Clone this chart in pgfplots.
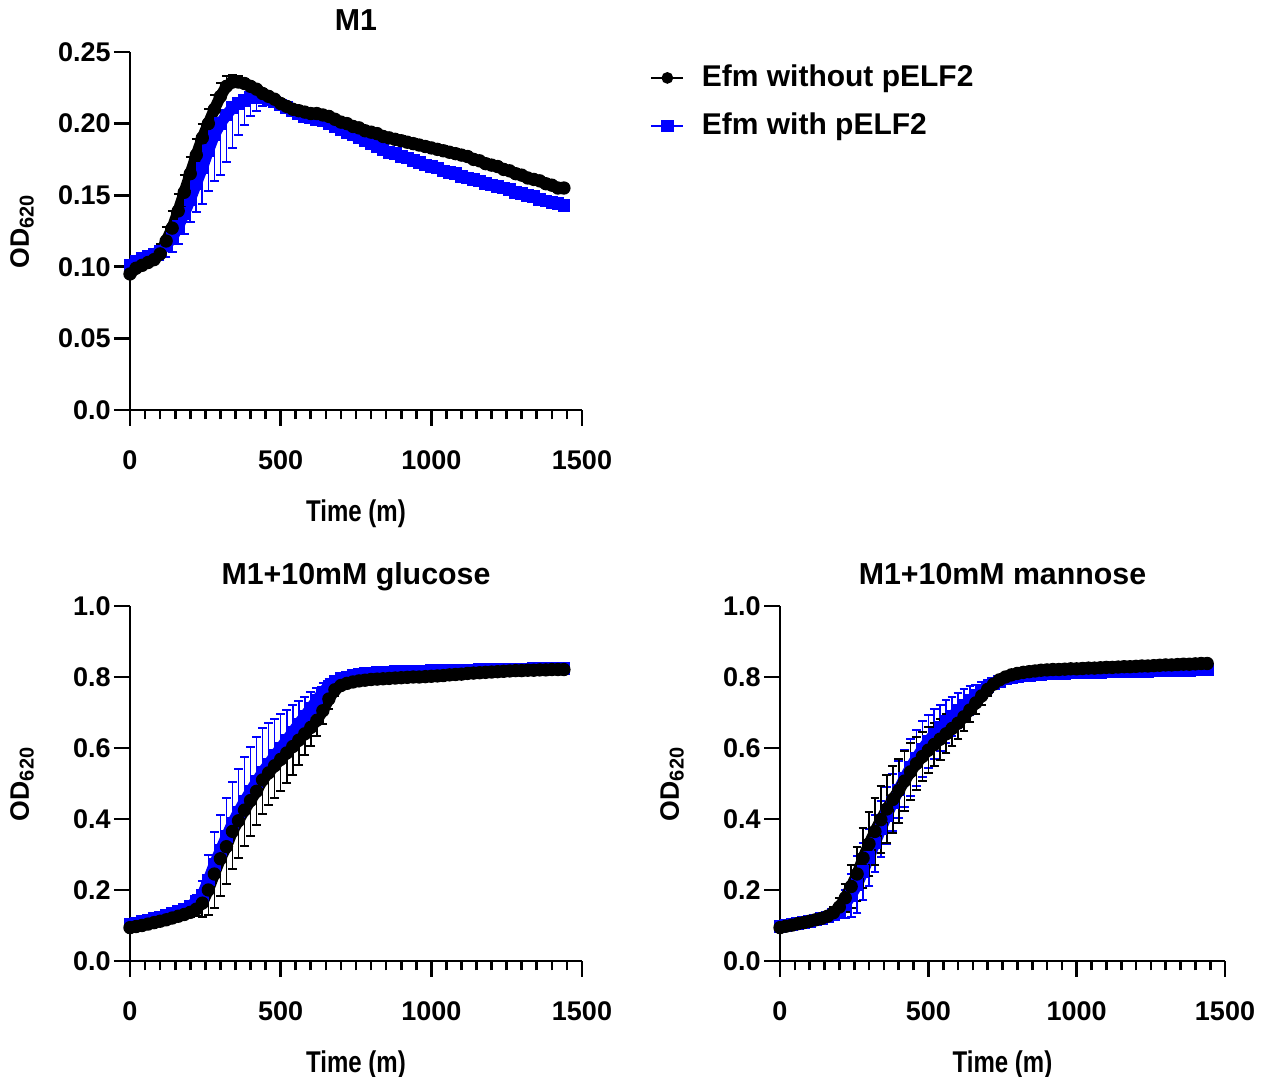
\documentclass[border=0pt]{standalone}
\usepackage{pgfplots}
\pgfplotsset{compat=1.18}
\usepackage{pgfplotstable}
\usepackage{fontspec}
\setmainfont{Liberation Sans}
\definecolor{pblue}{RGB}{0,0,255}

% M1
\pgfplotstableread[row sep=\\]{x y e\\
0 0.095 0.003\\ 20 0.099 0.003\\ 40 0.101 0.003\\ 60 0.103 0.004\\ 80 0.105 0.005\\
100 0.109 0.007\\ 120 0.118 0.010\\ 140 0.127 0.012\\ 160 0.139 0.012\\ 180 0.152 0.012\\
200 0.165 0.012\\ 220 0.178 0.011\\ 240 0.190 0.010\\ 260 0.200 0.010\\ 280 0.210 0.010\\
300 0.219 0.009\\ 320 0.226 0.007\\ 340 0.229 0.005\\ 360 0.229 0.004\\ 380 0.228 0.003\\
400 0.226 0.003\\ 420 0.224 0.003\\ 440 0.221 0.003\\ 460 0.219 0.003\\ 480 0.217 0.003\\
500 0.214 0.003\\ 520 0.212 0.003\\ 540 0.210 0.003\\ 560 0.209 0.003\\ 580 0.208 0.003\\
600 0.207 0.003\\ 620 0.207 0.003\\ 640 0.206 0.003\\ 660 0.205 0.003\\ 680 0.203 0.003\\
700 0.201 0.003\\ 720 0.200 0.003\\ 740 0.198 0.003\\ 760 0.197 0.003\\ 780 0.195 0.003\\
800 0.194 0.003\\ 820 0.193 0.003\\ 840 0.191 0.003\\ 860 0.190 0.003\\ 880 0.189 0.003\\
900 0.188 0.003\\ 920 0.187 0.003\\ 940 0.186 0.003\\ 960 0.185 0.003\\ 980 0.184 0.003\\
1000 0.183 0.003\\ 1020 0.182 0.003\\ 1040 0.181 0.003\\ 1060 0.180 0.003\\ 1080 0.179 0.003\\
1100 0.178 0.003\\ 1120 0.177 0.003\\ 1140 0.175 0.003\\ 1160 0.174 0.003\\ 1180 0.172 0.003\\
1200 0.171 0.003\\ 1220 0.170 0.003\\ 1240 0.168 0.003\\ 1260 0.167 0.003\\ 1280 0.165 0.003\\
1300 0.164 0.003\\ 1320 0.162 0.003\\ 1340 0.161 0.003\\ 1360 0.160 0.003\\ 1380 0.158 0.003\\
1400 0.157 0.003\\ 1420 0.155 0.003\\ 1440 0.155 0.003\\
}\mAblack
\pgfplotstableread[row sep=\\]{x y e\\
0 0.101 0.003\\ 20 0.104 0.003\\ 40 0.106 0.003\\ 60 0.107 0.004\\ 80 0.109 0.005\\
100 0.111 0.006\\ 120 0.115 0.008\\ 140 0.120 0.010\\ 160 0.128 0.012\\ 180 0.137 0.014\\
200 0.147 0.016\\ 220 0.158 0.020\\ 240 0.169 0.025\\ 260 0.181 0.028\\ 280 0.192 0.032\\
300 0.200 0.036\\ 320 0.206 0.033\\ 340 0.211 0.028\\ 360 0.214 0.022\\ 380 0.216 0.017\\
400 0.218 0.013\\ 420 0.218 0.009\\ 440 0.218 0.006\\ 460 0.217 0.004\\ 480 0.215 0.003\\
500 0.213 0.003\\ 520 0.211 0.003\\ 540 0.209 0.003\\ 560 0.207 0.003\\ 580 0.205 0.003\\
600 0.204 0.003\\ 620 0.203 0.003\\ 640 0.202 0.003\\ 660 0.200 0.003\\ 680 0.198 0.003\\
700 0.196 0.003\\ 720 0.194 0.003\\ 740 0.192 0.003\\ 760 0.190 0.003\\ 780 0.188 0.003\\
800 0.186 0.003\\ 820 0.184 0.003\\ 840 0.182 0.003\\ 860 0.180 0.003\\ 880 0.179 0.003\\
900 0.177 0.003\\ 920 0.176 0.003\\ 940 0.174 0.003\\ 960 0.173 0.003\\ 980 0.171 0.003\\
1000 0.170 0.003\\ 1020 0.169 0.003\\ 1040 0.167 0.003\\ 1060 0.166 0.003\\ 1080 0.165 0.003\\
1100 0.163 0.003\\ 1120 0.162 0.003\\ 1140 0.161 0.003\\ 1160 0.160 0.003\\ 1180 0.158 0.003\\
1200 0.157 0.003\\ 1220 0.156 0.003\\ 1240 0.155 0.003\\ 1260 0.154 0.003\\ 1280 0.152 0.003\\
1300 0.151 0.003\\ 1320 0.150 0.003\\ 1340 0.149 0.003\\ 1360 0.147 0.003\\ 1380 0.146 0.003\\
1400 0.145 0.003\\ 1420 0.144 0.003\\ 1440 0.143 0.003\\
}\mAblue

% M1 + glucose
\pgfplotstableread[row sep=\\]{x y e\\
0 0.094 0.006\\ 20 0.097 0.006\\ 40 0.100 0.006\\ 60 0.104 0.006\\ 80 0.108 0.007\\
100 0.112 0.007\\ 120 0.116 0.008\\ 140 0.121 0.008\\ 160 0.126 0.009\\ 180 0.131 0.010\\
200 0.137 0.012\\ 220 0.146 0.020\\ 240 0.163 0.040\\ 260 0.200 0.070\\ 280 0.245 0.095\\
300 0.288 0.105\\ 320 0.322 0.105\\ 340 0.365 0.105\\ 360 0.395 0.105\\ 380 0.425 0.100\\
400 0.452 0.100\\ 420 0.478 0.095\\ 440 0.510 0.095\\ 460 0.530 0.090\\ 480 0.550 0.090\\
500 0.568 0.088\\ 520 0.586 0.085\\ 540 0.604 0.080\\ 560 0.622 0.070\\ 580 0.640 0.060\\
600 0.658 0.052\\ 620 0.678 0.045\\ 640 0.705 0.038\\ 660 0.738 0.028\\ 680 0.764 0.018\\
700 0.776 0.012\\ 720 0.782 0.010\\ 740 0.786 0.008\\ 760 0.789 0.008\\ 780 0.791 0.006\\
800 0.793 0.006\\ 820 0.794 0.006\\ 840 0.795 0.006\\ 860 0.796 0.006\\ 880 0.797 0.006\\
900 0.798 0.006\\ 920 0.799 0.006\\ 940 0.800 0.006\\ 960 0.800 0.006\\ 980 0.801 0.006\\
1000 0.802 0.006\\ 1020 0.803 0.006\\ 1040 0.804 0.006\\ 1060 0.806 0.006\\ 1080 0.807 0.006\\
1100 0.808 0.006\\ 1120 0.810 0.006\\ 1140 0.811 0.006\\ 1160 0.812 0.006\\ 1180 0.813 0.006\\
1200 0.814 0.006\\ 1220 0.815 0.006\\ 1240 0.816 0.006\\ 1260 0.817 0.006\\ 1280 0.818 0.006\\
1300 0.818 0.006\\ 1320 0.819 0.006\\ 1340 0.819 0.006\\ 1360 0.820 0.006\\ 1380 0.820 0.006\\
1400 0.821 0.006\\ 1420 0.821 0.006\\ 1440 0.821 0.006\\
}\mBblack
\pgfplotstableread[row sep=\\]{x y e\\
0 0.103 0.006\\ 20 0.107 0.006\\ 40 0.111 0.006\\ 60 0.115 0.006\\ 80 0.119 0.007\\
100 0.123 0.007\\ 120 0.128 0.008\\ 140 0.133 0.008\\ 160 0.139 0.009\\ 180 0.146 0.010\\
200 0.155 0.012\\ 220 0.167 0.020\\ 240 0.185 0.040\\ 260 0.228 0.070\\ 280 0.272 0.090\\
300 0.312 0.100\\ 320 0.350 0.110\\ 340 0.388 0.115\\ 360 0.420 0.120\\ 380 0.450 0.125\\
400 0.478 0.125\\ 420 0.505 0.125\\ 440 0.532 0.125\\ 460 0.555 0.115\\ 480 0.578 0.105\\
500 0.600 0.095\\ 520 0.622 0.085\\ 540 0.645 0.075\\ 560 0.668 0.065\\ 580 0.690 0.055\\
600 0.712 0.045\\ 620 0.735 0.035\\ 640 0.757 0.025\\ 660 0.775 0.018\\ 680 0.788 0.012\\
700 0.795 0.010\\ 720 0.800 0.008\\ 740 0.804 0.006\\ 760 0.807 0.006\\ 780 0.809 0.006\\
800 0.811 0.006\\ 820 0.812 0.006\\ 840 0.813 0.006\\ 860 0.814 0.006\\ 880 0.815 0.006\\
900 0.815 0.006\\ 920 0.816 0.006\\ 940 0.816 0.006\\ 960 0.817 0.006\\ 980 0.817 0.006\\
1000 0.818 0.006\\ 1020 0.818 0.006\\ 1040 0.819 0.006\\ 1060 0.819 0.006\\ 1080 0.819 0.006\\
1100 0.820 0.006\\ 1120 0.820 0.006\\ 1140 0.820 0.006\\ 1160 0.821 0.006\\ 1180 0.821 0.006\\
1200 0.821 0.006\\ 1220 0.821 0.006\\ 1240 0.822 0.006\\ 1260 0.822 0.006\\ 1280 0.822 0.006\\
1300 0.822 0.006\\ 1320 0.822 0.006\\ 1340 0.823 0.006\\ 1360 0.823 0.006\\ 1380 0.823 0.006\\
1400 0.823 0.006\\ 1420 0.823 0.006\\ 1440 0.823 0.006\\
}\mBblue

% M1 + mannose
\pgfplotstableread[row sep=\\]{x y e\\
0 0.094 0.006\\ 20 0.098 0.006\\ 40 0.101 0.006\\ 60 0.105 0.006\\ 80 0.108 0.006\\
100 0.112 0.007\\ 120 0.116 0.007\\ 140 0.120 0.008\\ 160 0.126 0.010\\ 180 0.136 0.015\\
200 0.152 0.025\\ 220 0.178 0.040\\ 240 0.210 0.060\\ 260 0.245 0.075\\ 280 0.290 0.085\\
300 0.330 0.090\\ 320 0.365 0.095\\ 340 0.398 0.095\\ 360 0.428 0.095\\ 380 0.455 0.095\\
400 0.480 0.090\\ 420 0.507 0.085\\ 440 0.533 0.080\\ 460 0.556 0.075\\ 480 0.576 0.070\\
500 0.594 0.065\\ 520 0.610 0.060\\ 540 0.625 0.058\\ 560 0.640 0.055\\ 580 0.655 0.050\\
600 0.670 0.045\\ 620 0.688 0.040\\ 640 0.707 0.035\\ 660 0.727 0.030\\ 680 0.747 0.025\\
700 0.765 0.018\\ 720 0.780 0.012\\ 740 0.792 0.010\\ 760 0.800 0.008\\ 780 0.806 0.006\\
800 0.810 0.006\\ 820 0.813 0.006\\ 840 0.815 0.006\\ 860 0.817 0.006\\ 880 0.819 0.006\\
900 0.820 0.006\\ 920 0.821 0.006\\ 940 0.821 0.006\\ 960 0.822 0.006\\ 980 0.823 0.006\\
1000 0.823 0.006\\ 1020 0.824 0.006\\ 1040 0.825 0.006\\ 1060 0.825 0.006\\ 1080 0.826 0.006\\
1100 0.827 0.006\\ 1120 0.827 0.006\\ 1140 0.828 0.006\\ 1160 0.829 0.006\\ 1180 0.829 0.006\\
1200 0.830 0.006\\ 1220 0.831 0.006\\ 1240 0.831 0.006\\ 1260 0.832 0.006\\ 1280 0.833 0.006\\
1300 0.834 0.006\\ 1320 0.834 0.006\\ 1340 0.835 0.006\\ 1360 0.836 0.006\\ 1380 0.836 0.006\\
1400 0.837 0.006\\ 1420 0.838 0.006\\ 1440 0.838 0.006\\
}\mCblack
\pgfplotstableread[row sep=\\]{x y e\\
0 0.098 0.006\\ 20 0.100 0.006\\ 40 0.103 0.006\\ 60 0.106 0.006\\ 80 0.109 0.006\\
100 0.112 0.007\\ 120 0.115 0.007\\ 140 0.119 0.008\\ 160 0.124 0.010\\ 180 0.131 0.014\\
200 0.142 0.020\\ 220 0.160 0.040\\ 240 0.185 0.060\\ 260 0.215 0.080\\ 280 0.252 0.080\\
300 0.292 0.080\\ 320 0.332 0.080\\ 340 0.372 0.080\\ 360 0.410 0.080\\ 380 0.447 0.080\\
400 0.482 0.080\\ 420 0.515 0.080\\ 440 0.545 0.080\\ 460 0.572 0.080\\ 480 0.597 0.080\\
500 0.619 0.075\\ 520 0.639 0.070\\ 540 0.657 0.065\\ 560 0.674 0.060\\ 580 0.690 0.055\\
600 0.705 0.050\\ 620 0.720 0.045\\ 640 0.734 0.040\\ 660 0.748 0.030\\ 680 0.761 0.025\\
700 0.772 0.020\\ 720 0.781 0.012\\ 740 0.788 0.008\\ 760 0.794 0.008\\ 780 0.798 0.006\\
800 0.801 0.006\\ 820 0.803 0.006\\ 840 0.805 0.006\\ 860 0.806 0.006\\ 880 0.807 0.006\\
900 0.808 0.006\\ 920 0.809 0.006\\ 940 0.810 0.006\\ 960 0.810 0.006\\ 980 0.811 0.006\\
1000 0.812 0.006\\ 1020 0.812 0.006\\ 1040 0.813 0.006\\ 1060 0.813 0.006\\ 1080 0.813 0.006\\
1100 0.814 0.006\\ 1120 0.814 0.006\\ 1140 0.815 0.006\\ 1160 0.815 0.006\\ 1180 0.815 0.006\\
1200 0.816 0.006\\ 1220 0.816 0.006\\ 1240 0.816 0.006\\ 1260 0.817 0.006\\ 1280 0.817 0.006\\
1300 0.818 0.006\\ 1320 0.818 0.006\\ 1340 0.818 0.006\\ 1360 0.819 0.006\\ 1380 0.819 0.006\\
1400 0.820 0.006\\ 1420 0.820 0.006\\ 1440 0.820 0.006\\
}\mCblue

\pgfplotsset{
  growth/.style={
    scale only axis, clip=false,
    axis lines=left, axis line style={-, line width=0.8pt},
    xmin=0, xmax=1500, ymin=0,
    xtick={0,500,1000,1500}, minor x tick num=9,
    tick align=outside, major tick length=4.8pt, minor tick length=2.8pt,
    tick style={black, line width=0.8pt},
    /pgf/number format/assume math mode=true,
    /pgf/number format/1000 sep={},
    ticklabel style={font=\bfseries\fontsize{8.1}{9}\selectfont},
    xticklabel style={yshift=-3.8pt},
    yticklabel style={xshift=2.5pt},
    xlabel={\scalebox{0.8}[1]{Time (m)}},
    ylabel={OD\textsubscript{620}},
    xlabel style={at={([yshift=-31pt]axis description cs:0.5,0)}, anchor=center,
      font=\bfseries\fontsize{9}{10}\selectfont},
    ylabel style={at={([xshift=-32.4pt]axis description cs:0,0.5)}, anchor=center,
      font=\bfseries\fontsize{8}{9}\selectfont},
    every axis title/.style={at={(axis description cs:0.5,1)}, anchor=base,
      yshift=6.3pt, font=\bfseries\fontsize{9.1}{10}\selectfont},
  },
  % thick connecting band under the markers
  band/.style={#1, line width=3.4pt, line join=round, line cap=round,
    no marks, forget plot},
  % dir = plus, minus or both
  blk/.style={black, thin, mark=*, mark size=1.8pt, forget plot,
    error bars/.cd, y dir=#1, y explicit,
    error bar style={black, line width=0.5pt},
    error mark options={black, rotate=90, mark size=1.3pt, line width=0.6pt}},
  blu/.style={pblue, thin, mark=square*, mark size=1.7pt, forget plot,
    error bars/.cd, y dir=#1, y explicit,
    error bar style={pblue, line width=0.5pt},
    error mark options={pblue, rotate=90, mark size=1.3pt, line width=0.6pt}},
  legend image code/.code={
    \draw[#1, mark=none] (0pt,0pt) -- (9.6pt,0pt);
    \draw[#1, only marks] plot coordinates {(4.8pt,0pt)};
  },
}

\begin{document}
\begin{tikzpicture}
\useasboundingbox (0,0) rectangle (380.4pt,323.1pt);

% M1
\begin{axis}[growth, at={(39pt,200.1pt)}, anchor=south west,
  width=135.6pt, height=107.4pt, ymax=0.25,
  ytick={0,0.05,0.10,0.15,0.20,0.25},
  yticklabels={0.0,0.05,0.10,0.15,0.20,0.25},
  title={M1},
  legend style={at={(axis description cs:1.128,1.004)}, anchor=north west,
    draw=none, fill=none, font=\bfseries\fontsize{9}{11}\selectfont,
    row sep=2.4pt, cells={anchor=west}},
  legend cell align=left]
\addlegendimage{black, line width=0.5pt, mark=*, mark size=1.5pt}
\addlegendentry{\hspace{3.3pt}Efm without pELF2}
\addlegendimage{pblue, line width=0.5pt, mark=square*, mark size=1.6pt}
\addlegendentry{\hspace{3.3pt}Efm with pELF2}
\draw[line width=0.8pt] (axis cs:0,0) -- ++(-3.8pt,0);
\addplot[band=pblue] table[x=x, y=y] {\mAblue};
\addplot[blu=minus] table[x=x, y=y, y error=e] {\mAblue};
\addplot[band=black] table[x=x, y=y] {\mAblack};
\addplot[blk=plus] table[x=x, y=y, y error=e] {\mAblack};
\end{axis}

% M1 + glucose
\begin{axis}[growth, at={(39pt,34.8pt)}, anchor=south west,
  width=135.6pt, height=106.5pt, ymax=1.0,
  ytick={0,0.2,0.4,0.6,0.8,1.0},
  yticklabels={0.0,0.2,0.4,0.6,0.8,1.0},
  title={M1+10mM glucose}]
\draw[line width=0.8pt] (axis cs:0,0) -- ++(-3.8pt,0);
\addplot[band=pblue] table[x=x, y=y] {\mBblue};
\addplot[blu=plus] table[x=x, y=y, y error=e] {\mBblue};
\addplot[band=black] table[x=x, y=y] {\mBblack};
\addplot[blk=minus] table[x=x, y=y, y error=e] {\mBblack};
\end{axis}

% M1 + mannose
\begin{axis}[growth, at={(234pt,34.8pt)}, anchor=south west,
  width=133.5pt, height=106.5pt, ymax=1.0,
  ytick={0,0.2,0.4,0.6,0.8,1.0},
  yticklabels={0.0,0.2,0.4,0.6,0.8,1.0},
  title={M1+10mM mannose}]
\draw[line width=0.8pt] (axis cs:0,0) -- ++(-3.8pt,0);
\addplot[band=pblue] table[x=x, y=y] {\mCblue};
\addplot[blu=both] table[x=x, y=y, y error=e] {\mCblue};
\addplot[band=black] table[x=x, y=y] {\mCblack};
\addplot[blk=both] table[x=x, y=y, y error=e] {\mCblack};
\end{axis}
\end{tikzpicture}
\end{document}
